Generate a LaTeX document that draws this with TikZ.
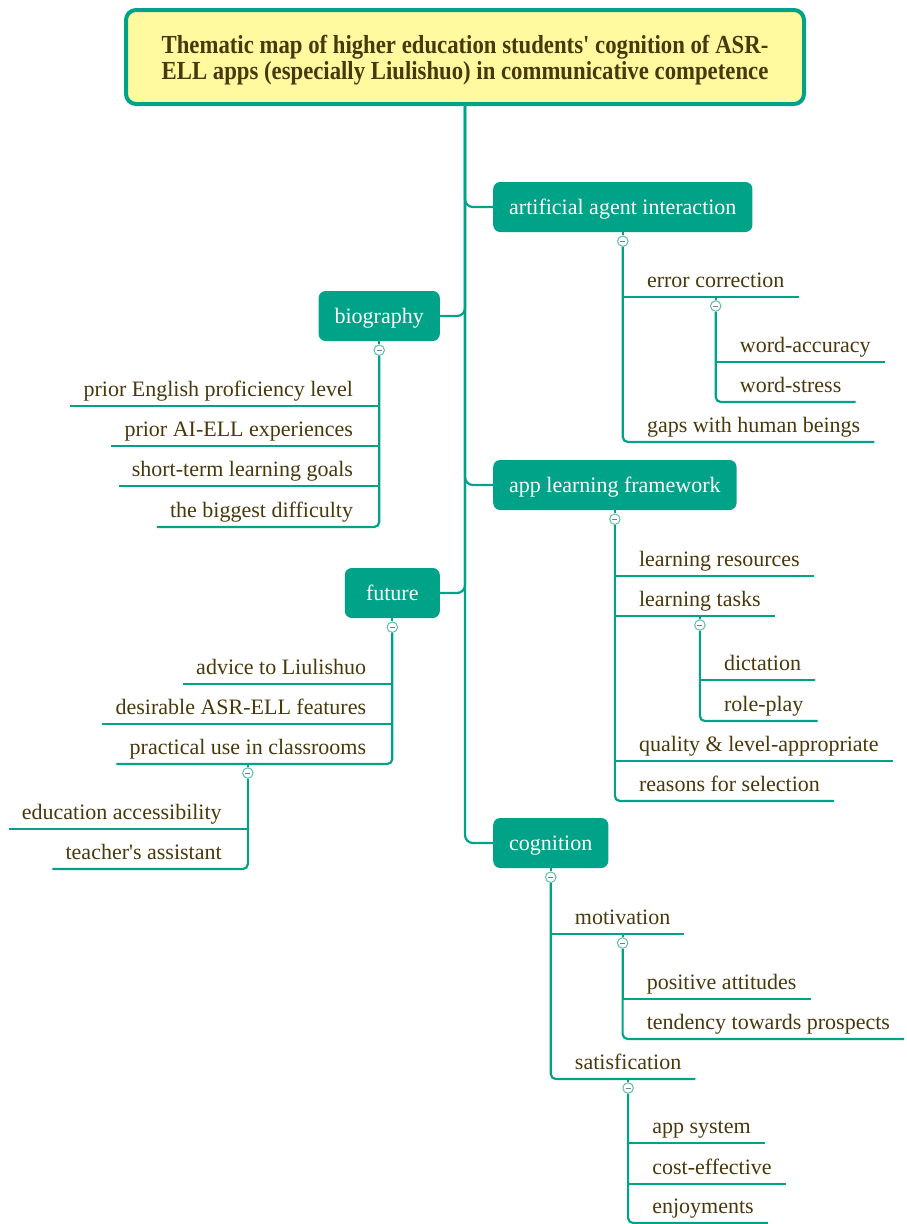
\documentclass[tikz,border=0pt]{standalone}
\usepackage{fontspec}
\setmainfont{Liberation Serif}[Ligatures=TeXOff]
\newfontfamily\titlefont{Liberation Serif Bold}[FakeStretch=0.875,Ligatures=TeXOff]
\usetikzlibrary{calc,backgrounds}
\definecolor{teal1}{RGB}{0,163,136}
\definecolor{ringc}{RGB}{90,190,170}
\definecolor{minusc}{RGB}{110,130,150}
\definecolor{txtc}{RGB}{72,56,10}
\definecolor{titlefill}{RGB}{255,250,160}
\begin{document}
\begin{tikzpicture}[x=1pt,y=-1pt,
 conn/.style={draw=teal1,line width=2.2pt},
 lastconn/.style={conn,rounded corners=5pt},
 trunk/.style={conn,rounded corners=8pt},
 topic/.style={rectangle,rounded corners=7pt,fill=teal1,text=white,inner xsep=16pt,inner ysep=0pt,minimum height=50pt,text height=16pt,text depth=2pt,font=\fontsize{22}{26}\selectfont},
 leafR/.style={inner sep=0pt,anchor=base west,text=txtc,font=\fontsize{22}{26}\selectfont},
 leafL/.style={leafR,anchor=base east},
 fold/.style={circle,draw=ringc,line width=1pt,fill=white,minimum size=10.5pt,inner sep=0pt,
   path picture={\draw[minusc,line width=1pt] ([xshift=-2.5pt]path picture bounding box.center) -- ([xshift=2.5pt]path picture bounding box.center);}},
 titlebox/.style={draw=teal1,line width=4pt,rounded corners=10pt,fill=titlefill,minimum width=678pt,minimum height=94pt,align=center,text=txtc,font=\titlefont\fontsize{26}{26}\selectfont},
]
\useasboundingbox (0,0) rectangle (906,1224);

\node[titlebox] (title) at (465,57) {\rule{0pt}{24.5pt}Thematic map of higher education students' cognition of ASR-\\ELL apps (especially Liulishuo) in communicative competence};

% main topics
\node[topic,anchor=west] (aai) at (493,207) {artificial agent interaction};
\node[topic,anchor=east] (bio) at (440,316) {biography};
\node[topic,anchor=west] (alf) at (493,485) {app learning framework};
\node[topic,anchor=east,minimum width=95pt] (fut) at (440,593) {future};
\node[topic,anchor=west] (cog) at (493,843) {cognition};

\node[fold] (faai) at ($(aai.south)+(0,9)$) {};
\node[fold] (fbio) at ($(bio.south)+(0,9)$) {};
\node[fold] (falf) at ($(alf.south)+(0,9)$) {};
\node[fold] (ffut) at ($(fut.south)+(0,9)$) {};
\node[fold] (fcog) at ($(cog.south)+(0,9)$) {};

% artificial agent interaction
\node[leafR,xshift=24pt] (ec) at (faai |- 0,287) {error correction};
\node[fold] (fec) at ($(ec.base)+(0,19)$) {};
\node[leafR,xshift=24pt] (wa) at (fec |- 0,352) {word-accuracy};
\node[leafR,xshift=24pt] (ws) at (fec |- 0,392) {word-stress};
\node[leafR,xshift=24pt] (gh) at (faai |- 0,432) {gaps with human beings};

% biography
\node[leafL,xshift=-26pt] (pe) at (fbio |- 0,396) {prior English proficiency level};
\node[leafL,xshift=-26pt] (pa) at (fbio |- 0,436) {prior AI-ELL experiences};
\node[leafL,xshift=-26pt] (st) at (fbio |- 0,476) {short-term learning goals};
\node[leafL,xshift=-26pt] (bd) at (fbio |- 0,517) {the biggest difficulty};

% future
\node[leafL,xshift=-26pt] (ad) at (ffut |- 0,674) {advice to Liulishuo};
\node[leafL,xshift=-26pt] (df) at (ffut |- 0,714) {desirable ASR-ELL features};
\node[leafL,xshift=-26pt] (pu) at (ffut |- 0,754) {practical use in classrooms};
\node[fold] (fpu) at ($(pu.base)+(0,19)$) {};
\node[leafL,xshift=-26pt] (ea) at (fpu |- 0,819) {education accessibility};
\node[leafL,xshift=-26pt] (ta) at (fpu |- 0,859) {teacher's assistant};

% app learning framework
\node[leafR,xshift=24pt] (lr) at (falf |- 0,566) {learning resources};
\node[leafR,xshift=24pt] (lt) at (falf |- 0,606) {learning tasks};
\node[fold] (flt) at ($(lt.base)+(0,19)$) {};
\node[leafR,xshift=24pt] (dc) at (flt |- 0,670) {dictation};
\node[leafR,xshift=24pt] (rp) at (flt |- 0,711) {role-play};
\node[leafR,xshift=24pt] (qa) at (falf |- 0,751) {quality \& level-appropriate};
\node[leafR,xshift=24pt] (rs) at (falf |- 0,791) {reasons for selection};

% cognition
\node[leafR,xshift=24pt] (mo) at (fcog |- 0,924) {motivation};
\node[fold] (fmo) at ($(mo.base)+(0,19)$) {};
\node[leafR,xshift=24pt] (pat) at (fmo |- 0,989) {positive attitudes};
\node[leafR,xshift=24pt] (tp) at (fmo |- 0,1029) {tendency towards prospects};
\node[leafR,xshift=24pt] (sa) at (fcog |- 0,1069) {satisfication};
\node[fold] (fsa) at ($(sa.base)+(0,19)$) {};
\node[leafR,xshift=24pt] (as) at (fsa |- 0,1133) {app system};
\node[leafR,xshift=24pt] (ce) at (fsa |- 0,1174) {cost-effective};
\node[leafR,xshift=24pt] (en) at (fsa |- 0,1213) {enjoyments};

\begin{scope}[on background layer]
% trunk
\draw[trunk] (title.south) |- (aai.west);
\draw[trunk] (bio.east) -| (title.south);
\draw[trunk] (title.south) |- (alf.west);
\draw[trunk] (fut.east) -| (title.south);
\draw[trunk] (title.south) |- (cog.west);
% topic to fold
\foreach \t in {aai,bio,alf,fut,cog} \draw[conn] (\t.south) -- (f\t.north);
% right leaves
\draw[conn] (faai.south) |- ($(ec.base east)+(14,10)$);
\draw[conn] ($(ec.base)+(0,10)$) -- (fec.north);
\draw[conn] (fec.south) |- ($(wa.base east)+(14,10)$);
\draw[lastconn] (fec.south) |- ($(ws.base east)+(14,10)$);
\draw[lastconn] (faai.south) |- ($(gh.base east)+(14,10)$);

\draw[conn] (falf.south) |- ($(lr.base east)+(14,10)$);
\draw[conn] (falf.south) |- ($(lt.base east)+(14,10)$);
\draw[conn] ($(lt.base)+(0,10)$) -- (flt.north);
\draw[conn] (flt.south) |- ($(dc.base east)+(14,10)$);
\draw[lastconn] (flt.south) |- ($(rp.base east)+(14,10)$);
\draw[conn] (falf.south) |- ($(qa.base east)+(14,10)$);
\draw[lastconn] (falf.south) |- ($(rs.base east)+(14,10)$);

\draw[conn] (fcog.south) |- ($(mo.base east)+(14,10)$);
\draw[conn] ($(mo.base)+(0,10)$) -- (fmo.north);
\draw[conn] (fmo.south) |- ($(pat.base east)+(14,10)$);
\draw[lastconn] (fmo.south) |- ($(tp.base east)+(14,10)$);
\draw[lastconn] (fcog.south) |- ($(sa.base east)+(14,10)$);
\draw[conn] ($(sa.base)+(0,10)$) -- (fsa.north);
\draw[conn] (fsa.south) |- ($(as.base east)+(14,10)$);
\draw[conn] (fsa.south) |- ($(ce.base east)+(14,10)$);
\draw[lastconn] (fsa.south) |- ($(en.base east)+(14,10)$);
% left leaves
\draw[conn] (fbio.south) |- ($(pe.base west)+(-13,10)$);
\draw[conn] (fbio.south) |- ($(pa.base west)+(-13,10)$);
\draw[conn] (fbio.south) |- ($(st.base west)+(-13,10)$);
\draw[lastconn] (fbio.south) |- ($(bd.base west)+(-13,10)$);

\draw[conn] (ffut.south) |- ($(ad.base west)+(-13,10)$);
\draw[conn] (ffut.south) |- ($(df.base west)+(-13,10)$);
\draw[lastconn] (ffut.south) |- ($(pu.base west)+(-13,10)$);
\draw[conn] ($(pu.base)+(0,10)$) -- (fpu.north);
\draw[conn] (fpu.south) |- ($(ea.base west)+(-13,10)$);
\draw[lastconn] (fpu.south) |- ($(ta.base west)+(-13,10)$);
\end{scope}
\end{tikzpicture}
\end{document}
